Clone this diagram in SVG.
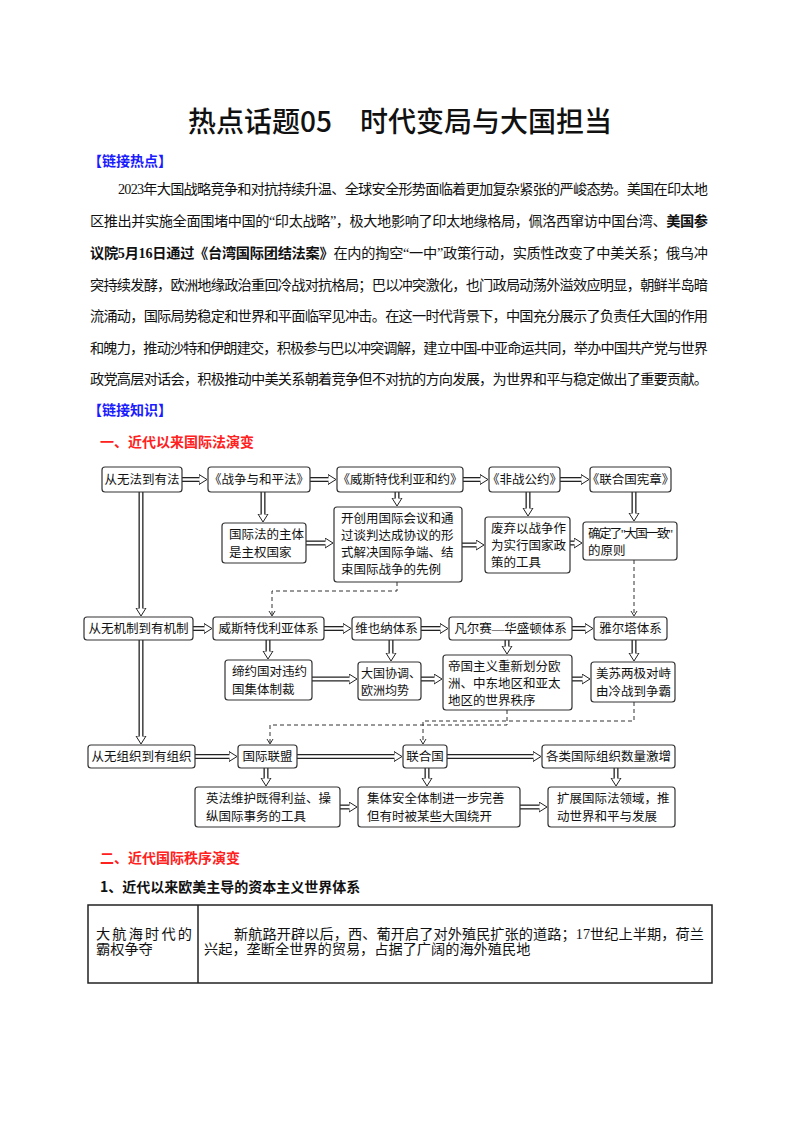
<svg xmlns="http://www.w3.org/2000/svg" width="800" height="1132" viewBox="0 0 800 1132">
<style>
text{font-family:"Liberation Serif","Noto Sans CJK SC",serif;fill:#111}
.t{font-size:28px;font-family:"Noto Sans CJK SC",sans-serif;font-weight:500}
.hb{font-size:14px;font-weight:bold;fill:#1a1aff;font-family:"Noto Sans CJK SC",sans-serif}
.hr{font-size:14px;font-weight:bold;fill:#ff2020;font-family:"Noto Sans CJK SC",sans-serif}
.hk{font-size:14px;font-weight:bold;font-family:"Noto Sans CJK SC",sans-serif}
.p{font-size:14.2px}
.b{font-weight:bold}
.n{font-size:12.5px}
.c{text-anchor:middle}
rect.bx{fill:#fff;stroke:#333;stroke-width:1.2}
.a{stroke:#222;stroke-width:5;fill:none;marker-end:url(#h)}
.ai{stroke:#fff;stroke-width:2.4;fill:none}
.da{stroke:#333;stroke-width:1;stroke-dasharray:4 3;fill:none;marker-end:url(#dh)}
.tb{fill:none;stroke:#222;stroke-width:1.5}
</style>
<defs>
<marker id="h" markerUnits="userSpaceOnUse" markerWidth="12" markerHeight="12" refX="0.5" refY="5.5" orient="auto" viewBox="0 0 12 12"><path d="M0.5,0.5 L8.5,5.5 L0.5,10.5 z" fill="#fff" stroke="#222" stroke-width="1"/></marker>
<marker id="dh" markerUnits="userSpaceOnUse" markerWidth="8" markerHeight="8" refX="6" refY="4" orient="auto" viewBox="0 0 8 8"><path d="M1,1 L6,4 L1,7" fill="none" stroke="#333" stroke-width="1"/></marker>
</defs>
<rect width="800" height="1132" fill="#fff"/>
<text class="t c" x="400" y="132">热点话题05　时代变局与大国担当</text>
<text class="hb" x="88" y="166">【链接热点】</text>
<g class="p">
<text x="118" y="194" textLength="590">2023年大国战略竞争和对抗持续升温、全球安全形势面临着更加复杂紧张的严峻态势。美国在印太地</text>
<text x="90" y="226" textLength="618">区推出并实施全面围堵中国的“印太战略”，极大地影响了印太地缘格局，佩洛西窜访中国台湾、<tspan class="b">美国参</tspan></text>
<text x="90" y="258" textLength="618"><tspan class="b">议院5月16日通过《台湾国际团结法案》</tspan>在内的掏空“一中”政策行动，实质性改变了中美关系；俄乌冲</text>
<text x="90" y="290" textLength="618">突持续发酵，欧洲地缘政治重回冷战对抗格局；巴以冲突激化，也门政局动荡外溢效应明显，朝鲜半岛暗</text>
<text x="90" y="321" textLength="618">流涌动，国际局势稳定和世界和平面临罕见冲击。在这一时代背景下，中国充分展示了负责任大国的作用</text>
<text x="90" y="353" textLength="618">和魄力，推动沙特和伊朗建交，积极参与巴以冲突调解，建立中国-中亚命运共同，举办中国共产党与世界</text>
<text x="90" y="384" textLength="618">政党高层对话会，积极推动中美关系朝着竞争但不对抗的方向发展，为世界和平与稳定做出了重要贡献。</text>
</g>
<text class="hb" x="88" y="415">【链接知识】</text>
<text class="hr" x="100" y="447">一、近代以来国际法演变</text>

<g id="connectors">
<path class="a" d="M182,479.5 H199"/><path class="ai" d="M182,479.5 H200"/>
<path class="a" d="M310,479.5 H328"/><path class="ai" d="M310,479.5 H329"/>
<path class="a" d="M463,479.5 H480"/><path class="ai" d="M463,479.5 H481"/>
<path class="a" d="M560,479.5 H581"/><path class="ai" d="M560,479.5 H582"/>
<path class="a" d="M263,492 V514"/><path class="ai" d="M263,492 V515"/>
<path class="a" d="M397,492 V498"/><path class="ai" d="M397,492 V499"/>
<path class="a" d="M528,492 V508"/><path class="ai" d="M528,492 V509"/>
<path class="a" d="M634,492 V513"/><path class="ai" d="M634,492 V514"/>
<path class="a" d="M306,543 H325"/><path class="ai" d="M306,543 H326"/>
<path class="a" d="M462,545 H476"/><path class="ai" d="M462,545 H477"/>
<path class="a" d="M570,543 H574"/><path class="ai" d="M570,543 H575"/>
<path class="a" d="M141,492 V608"/><path class="ai" d="M141,492 V609"/>
<path class="da" d="M397,582 V591 H272 V616"/>
<path class="da" d="M634,560 V616"/>
<path class="a" d="M193,628.5 H204"/><path class="ai" d="M193,628.5 H205"/>
<path class="a" d="M324,628.5 H343"/><path class="ai" d="M324,628.5 H344"/>
<path class="a" d="M421,628.5 H440"/><path class="ai" d="M421,628.5 H441"/>
<path class="a" d="M572,628.5 H585"/><path class="ai" d="M572,628.5 H586"/>
<path class="a" d="M268,640 V651"/><path class="ai" d="M268,640 V652"/>
<path class="a" d="M391,640 V653"/><path class="ai" d="M391,640 V654"/>
<path class="a" d="M507,640 V646"/><path class="ai" d="M507,640 V647"/>
<path class="a" d="M634,640 V653"/><path class="ai" d="M634,640 V654"/>
<path class="a" d="M312,679 H349"/><path class="ai" d="M312,679 H350"/>
<path class="a" d="M421,679 H434"/><path class="ai" d="M421,679 H435"/>
<path class="a" d="M572,679 H582"/><path class="ai" d="M572,679 H583"/>
<path class="a" d="M141,640 V736"/><path class="ai" d="M141,640 V737"/>
<path class="da" d="M507,710 V725 H270 V744"/>
<path class="da" d="M634,702 V721 H423 V744"/>
<path class="a" d="M195,756.5 H229"/><path class="ai" d="M195,756.5 H230"/>
<path class="a" d="M297,756.5 H394"/><path class="ai" d="M297,756.5 H395"/>
<path class="a" d="M447,756.5 H533"/><path class="ai" d="M447,756.5 H534"/>
<path class="a" d="M266,768 V778"/><path class="ai" d="M266,768 V779"/>
<path class="a" d="M427,768 V778"/><path class="ai" d="M427,768 V779"/>
<path class="a" d="M616,768 V778"/><path class="ai" d="M616,768 V779"/>
<path class="a" d="M340,807 H349"/><path class="ai" d="M340,807 H350"/>
<path class="a" d="M520,807 H539"/><path class="ai" d="M520,807 H540"/>
</g>

<g class="n">
<g id="n1"><rect class="bx" x="102" y="467" width="80" height="25" rx="3"/><text class="c" x="142" y="484">从无法到有法</text></g>
<g id="n2"><rect class="bx" x="208" y="467" width="102" height="25" rx="3"/><text class="c" x="259" y="484">《战争与和平法》</text></g>
<g id="n3"><rect class="bx" x="337" y="467" width="126" height="25" rx="3"/><text class="c" x="400" y="484">《威斯特伐利亚和约》</text></g>
<g id="n4"><rect class="bx" x="489" y="467" width="71" height="25" rx="3"/><text class="c" x="524.5" y="484">《非战公约》</text></g>
<g id="n5"><rect class="bx" x="590" y="467" width="81" height="25" rx="3"/><text class="c" x="630.5" y="484">《联合国宪章》</text></g>
<g id="n6"><rect class="bx" x="222" y="523" width="84" height="40" rx="3"/><text x="229" y="539">国际法的主体</text><text x="229" y="557">是主权国家</text></g>
<g id="n7"><rect class="bx" x="334" y="507" width="128" height="75" rx="3"/><text x="341" y="523">开创用国际会议和通</text><text x="341" y="540">过谈判达成协议的形</text><text x="341" y="557">式解决国际争端、结</text><text x="341" y="574">束国际战争的先例</text></g>
<g id="n8"><rect class="bx" x="485" y="517" width="85" height="56" rx="3"/><text x="491" y="533">废弃以战争作</text><text x="491" y="550">为实行国家政</text><text x="491" y="567">策的工具</text></g>
<g id="n9"><rect class="bx" x="583" y="522" width="94" height="38" rx="3"/><text x="588" y="538" textLength="85">确定了"大国一致"</text><text x="588" y="555">的原则</text></g>
<g id="n10"><rect class="bx" x="84" y="617" width="109" height="23" rx="3"/><text class="c" x="138.5" y="633">从无机制到有机制</text></g>
<g id="n11"><rect class="bx" x="213" y="617" width="111" height="23" rx="3"/><text class="c" x="268.5" y="633">威斯特伐利亚体系</text></g>
<g id="n12"><rect class="bx" x="352" y="617" width="69" height="23" rx="3"/><text class="c" x="386.5" y="633">维也纳体系</text></g>
<g id="n13"><rect class="bx" x="449" y="617" width="123" height="23" rx="3"/><text class="c" x="510.5" y="633">凡尔赛—华盛顿体系</text></g>
<g id="n14"><rect class="bx" x="594" y="617" width="73" height="23" rx="3"/><text class="c" x="630.5" y="633">雅尔塔体系</text></g>
<g id="n15"><rect class="bx" x="225" y="660" width="87" height="40" rx="3"/><text x="232" y="676">缔约国对违约</text><text x="232" y="694">国集体制裁</text></g>
<g id="n16"><rect class="bx" x="358" y="662" width="63" height="38" rx="3"/><text x="361" y="678" style="font-size:12px">大国协调、</text><text x="361" y="695" style="font-size:12px">欧洲均势</text></g>
<g id="n17"><rect class="bx" x="443" y="655" width="129" height="55" rx="3"/><text x="448" y="671">帝国主义重新划分欧</text><text x="448" y="688">洲、中东地区和亚太</text><text x="448" y="705">地区的世界秩序</text></g>
<g id="n18"><rect class="bx" x="591" y="662" width="84" height="40" rx="3"/><text x="596" y="678">美苏两极对峙</text><text x="596" y="696">由冷战到争霸</text></g>
<g id="n19"><rect class="bx" x="88" y="745" width="107" height="23" rx="3"/><text class="c" x="141.5" y="761">从无组织到有组织</text></g>
<g id="n20"><rect class="bx" x="238" y="745" width="59" height="23" rx="3"/><text class="c" x="267.5" y="761">国际联盟</text></g>
<g id="n21"><rect class="bx" x="403" y="745" width="44" height="23" rx="3"/><text class="c" x="425" y="761">联合国</text></g>
<g id="n22"><rect class="bx" x="542" y="745" width="133" height="23" rx="3"/><text class="c" x="608.5" y="761">各类国际组织数量激增</text></g>
<g id="n23"><rect class="bx" x="195" y="787" width="145" height="40" rx="3"/><text x="206" y="803">英法维护既得利益、操</text><text x="206" y="821">纵国际事务的工具</text></g>
<g id="n24"><rect class="bx" x="358" y="787" width="162" height="40" rx="3"/><text x="367" y="803">集体安全体制进一步完善</text><text x="367" y="821">但有时被某些大国绕开</text></g>
<g id="n25"><rect class="bx" x="548" y="787" width="127" height="40" rx="3"/><text x="557" y="803">扩展国际法领域，推</text><text x="557" y="821">动世界和平与发展</text></g>
</g>

<text class="hr" x="100" y="863">二、近代国际秩序演变</text>
<text class="hk" x="100" y="892">1、近代以来欧美主导的资本主义世界体系</text>
<rect class="tb" x="88" y="905" width="624" height="78"/>
<line class="tb" x1="198" y1="905" x2="198" y2="983"/>
<text class="p" x="96" y="939" textLength="96">大航海时代的</text>
<text class="p" x="96" y="954">霸权争夺</text>
<text class="p" x="234" y="939" textLength="470">新航路开辟以后，西、葡开启了对外殖民扩张的道路；17世纪上半期，荷兰</text>
<text class="p" x="204" y="954">兴起，垄断全世界的贸易，占据了广阔的海外殖民地</text>
</svg>
